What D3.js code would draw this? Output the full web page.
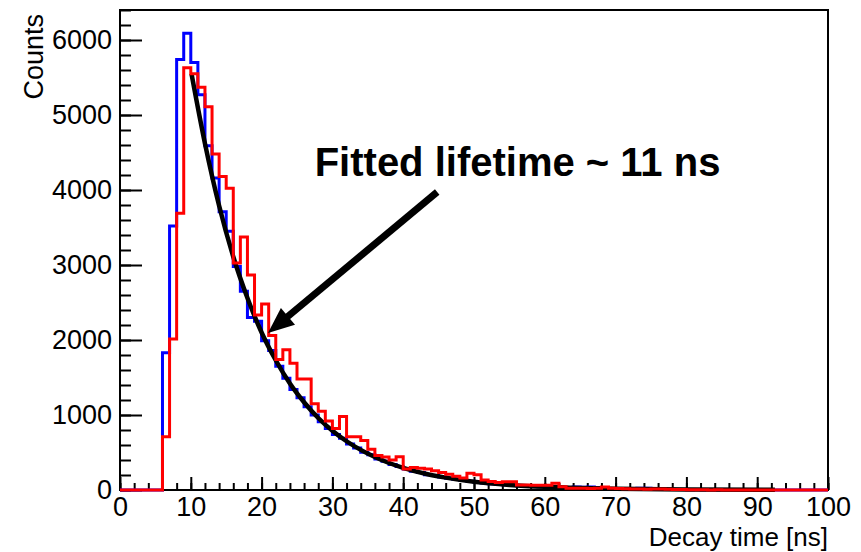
<!DOCTYPE html>
<html>
<head>
<meta charset="utf-8">
<script src="https://cdn.jsdelivr.net/npm/d3@7"></script>
<style>
  body { margin: 0; background: #fff; }
  text { font-family: "Liberation Sans", Arial, Helvetica, sans-serif; }
</style>
</head>
<body>
<div id="chart"></div>
<script>
// bins are 1 ns wide, from 0 to 100 ns
const binStart = d3.range(0, 100);

// blue histogram, counts per bin
const blueCounts = [
  0, 0, 0, 0, 0, 0, 1830, 3520, 5740, 6090,
  5700, 5270, 4590, 4160, 3710, 3450, 2980, 2650, 2300, 2250,
  1990, 1860, 1650, 1490, 1340, 1230, 1110, 1000, 910, 820,
  740, 690, 615, 560, 505, 470, 415, 385, 340, 315,
  280, 250, 232, 205, 192, 172, 158, 142, 128, 118,
  105, 92, 84, 77, 70, 63, 57, 52, 48, 44,
  40, 36, 33, 30, 40, 38, 40, 35, 25, 20,
  18, 20, 15, 25, 22, 18, 10, 8, 6, 8,
  5, 6, 4, 5, 3, 4, 2, 3, 2, 2,
  1, 2, 1, 1, 0, 1, 0, 0, 0, 0
];

// red histogram, counts per bin
const redCounts = [
  0, 0, 0, 0, 0, 0, 711, 2013, 3689, 5630,
  5550, 5370, 5110, 4480, 4180, 4025, 3027, 3373, 2867, 2333,
  2480, 2060, 1740, 1870, 1690, 1480, 1480, 1150, 1050, 920,
  820, 980, 711, 711, 660, 545, 460, 440, 400, 444,
  280, 300, 290, 280, 258, 235, 210, 185, 160, 222,
  205, 135, 112, 100, 110, 110, 67, 67, 65, 62,
  65, 89, 44, 25, 22, 22, 20, 22, 40, 22,
  20, 18, 15, 12, 10, 15, 12, 10, 8, 6,
  3, 2, 3, 1, 2, 1, 1, 0, 1, 0,
  0, 1, 0, 0, 0, 0, 0, 0, 0, 0
];

// exponential fit
const fitTime = [10.1, 12, 14, 16, 18, 20, 22, 24, 26, 28, 30, 32, 34, 36, 38, 40, 43, 46, 50, 55, 60, 65, 70, 80, 92.5];
const fitCounts = [5550, 4620, 3790, 3110, 2560, 2100, 1730, 1420, 1170, 960, 790, 650, 535, 440, 360, 296, 220, 165, 110, 68, 42, 26, 16, 6, 2];

const xTicks = [0, 10, 20, 30, 40, 50, 60, 70, 80, 90, 100];
const yTicks = [0, 1000, 2000, 3000, 4000, 5000, 6000];

const annotation = 'Fitted lifetime ~ 11 ns';
const xTitle = 'Decay time [ns]';
const yTitle = 'Counts';

drawChart();

function drawChart() {
  const width = 861;
  const height = 552;
  const frame = { left: 120, right: 828, top: 10, bottom: 490 };

  const svg = d3.select('#chart')
    .append('svg')
    .attr('width', width)
    .attr('height', height);

  svg.append('rect')
    .attr('width', width)
    .attr('height', height)
    .attr('fill', '#fff');

  const scaleX = d3.scaleLinear()
    .domain([0, 100])
    .range([frame.left, frame.right]);

  const scaleY = d3.scaleLinear()
    .domain([0, 6400])
    .range([frame.bottom, frame.top]);

  // frame box
  svg.append('rect')
    .attr('x', frame.left)
    .attr('y', frame.top)
    .attr('width', frame.right - frame.left)
    .attr('height', frame.bottom - frame.top)
    .attr('fill', 'none')
    .attr('stroke', '#000')
    .attr('stroke-width', 2);

  // ROOT style ticks, pointing inside the frame
  const minorX = d3.axisBottom(scaleX)
    .tickValues(d3.range(0, 101, 2))
    .tickSize(-7)
    .tickFormat('');
  const majorX = d3.axisBottom(scaleX)
    .tickValues(xTicks)
    .tickSize(-13)
    .tickPadding(7)
    .tickFormat(d3.format('d'));

  const minorY = d3.axisLeft(scaleY)
    .tickValues(d3.range(0, 6401, 200))
    .tickSize(-11)
    .tickFormat('');
  const majorY = d3.axisLeft(scaleY)
    .tickValues(yTicks)
    .tickSize(-22)
    .tickPadding(8)
    .tickFormat(d3.format('d'));

  [minorX, majorX].forEach(ax => {
    svg.append('g')
      .attr('transform', `translate(0, ${frame.bottom})`)
      .call(ax);
  });
  [minorY, majorY].forEach(ax => {
    svg.append('g')
      .attr('transform', `translate(${frame.left}, 0)`)
      .call(ax);
  });

  svg.selectAll('.domain').remove();
  svg.selectAll('.tick line')
    .attr('stroke', '#000')
    .attr('stroke-width', 2);
  svg.selectAll('.tick text')
    .attr('fill', '#000')
    .style('font-size', '27px');

  // histograms as step outlines
  const step = d3.line()
    .x(d => scaleX(d[0]))
    .y(d => scaleY(d[1]))
    .curve(d3.curveStepAfter);

  function outline(counts) {
    const pts = binStart.map((b, i) => [b, counts[i]]);
    pts.push([100, counts[counts.length - 1]]);
    return pts;
  }

  const plot = svg.append('g');

  plot.append('path')
    .attr('fill', 'none')
    .attr('stroke', '#0000ff')
    .attr('stroke-width', 3)
    .attr('d', step(outline(blueCounts)));

  const fitLine = d3.line()
    .x(d => scaleX(d[0]))
    .y(d => scaleY(d[1]))
    .curve(d3.curveMonotoneX);

  plot.append('path')
    .attr('fill', 'none')
    .attr('stroke', '#000')
    .attr('stroke-width', 4.5)
    .attr('d', fitLine(fitTime.map((t, i) => [t, fitCounts[i]])));

  plot.append('path')
    .attr('fill', 'none')
    .attr('stroke', '#ff0000')
    .attr('stroke-width', 3)
    .attr('d', step(outline(redCounts)));

  // axis titles
  svg.append('text')
    .attr('x', frame.right)
    .attr('y', 546)
    .attr('text-anchor', 'end')
    .style('font-size', '26px')
    .text(xTitle);

  svg.append('text')
    .attr('transform', 'translate(43, 14) rotate(-90)')
    .attr('text-anchor', 'end')
    .style('font-size', '27px')
    .text(yTitle);

  // annotation text and arrow
  svg.append('text')
    .attr('x', scaleX(27.5))
    .attr('y', scaleY(4187))
    .style('font-size', '40px')
    .style('font-weight', 'bold')
    .text(annotation);

  const tail = [scaleX(44.8), scaleY(3973)];
  const tip = [scaleX(20.9), scaleY(2093)];
  const dx = tip[0] - tail[0];
  const dy = tip[1] - tail[1];
  const len = Math.hypot(dx, dy);
  const ux = dx / len;
  const uy = dy / len;
  const headLen = 26;
  const headHalf = 11;
  const base = [tip[0] - ux * headLen, tip[1] - uy * headLen];

  svg.append('line')
    .attr('x1', tail[0])
    .attr('y1', tail[1])
    .attr('x2', base[0] + ux * 2)
    .attr('y2', base[1] + uy * 2)
    .attr('stroke', '#000')
    .attr('stroke-width', 7);

  svg.append('path')
    .attr('fill', '#000')
    .attr('d', `M${tip[0]},${tip[1]}` +
      `L${base[0] - uy * headHalf},${base[1] + ux * headHalf}` +
      `L${base[0] + uy * headHalf},${base[1] - ux * headHalf}Z`);
}
</script>
</body>
</html>
